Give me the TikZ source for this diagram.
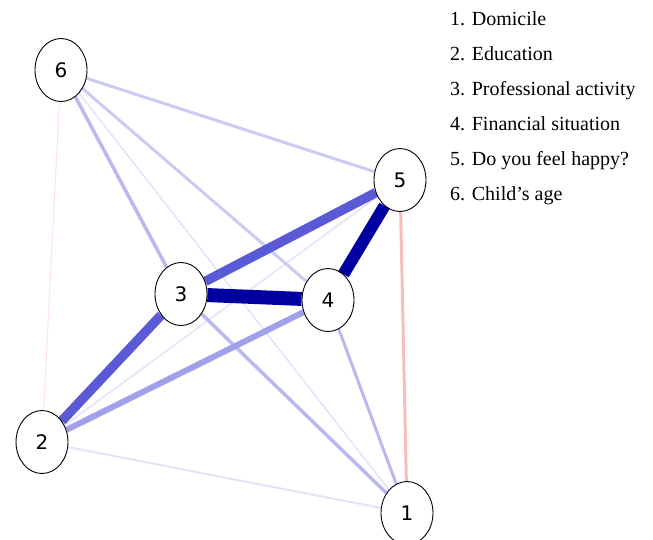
\documentclass[tikz,border=0pt]{standalone}
\usepackage{fontspec}
\setmainfont{Liberation Serif}
\newfontfamily\varfont{DejaVu Sans}
\usetikzlibrary{shapes.geometric,backgrounds}
\definecolor{navy}{HTML}{0000A0}
\definecolor{midblue}{HTML}{5A5AD7}
\definecolor{softblue}{HTML}{A0A0EB}
\definecolor{lightblue}{HTML}{B9B9F0}
\definecolor{paleblue}{HTML}{CBCBF6}
\definecolor{faintblue}{HTML}{E2E2FB}
\definecolor{salmon}{HTML}{F5BEB9}
\definecolor{faintpink}{HTML}{FDE4E4}
\tikzset{
  var/.style={ellipse, draw=black, line width=0.9pt, fill=white, minimum width=52pt, minimum height=63pt, inner sep=0pt, font=\varfont\fontsize{20}{24}\selectfont},
  legend/.style={anchor=base west, inner sep=0pt, font=\fontsize{20}{24}\selectfont},
  tie/.style={line cap=butt}
}

\begin{document}
\begin{tikzpicture}[x=1pt,y=-1pt]
\useasboundingbox (0,0) rectangle (653,539);
\clip (0,0) rectangle (653,539);
% variables
\node[var] (v1) at (407,513) {1};
\node[var] (v2) at (42,442) {2};
\node[var] (v3) at (181,294) {3};
\node[var] (v4) at (328,300) {4};
\node[var] (v5) at (400,180) {5};
\node[var] (v6) at (61,70) {6};
% edges
\begin{scope}[on background layer]
\draw[tie, draw=faintpink, line width=1pt] (v6) -- (v2);
\draw[tie, draw=faintblue, line width=1.5pt] (v6) -- (v1);
\draw[tie, draw=faintblue, line width=1.5pt] (v5) -- (v2);
\draw[tie, draw=faintblue, line width=2pt] (v2) -- (v1);
\draw[tie, draw=paleblue, line width=3pt] (v6) -- (v5);
\draw[tie, draw=paleblue, line width=3pt] (v6) -- (v4);
\draw[tie, draw=lightblue, line width=3.5pt] (v6) -- (v3);
\draw[tie, draw=lightblue, line width=3.5pt] (v3) -- (v1);
\draw[tie, draw=lightblue, line width=3pt] (v4) -- (v1);
\draw[tie, draw=salmon, line width=3pt] (v5) -- (v1);
\draw[tie, draw=softblue, line width=6pt] (v4) -- (v2);
\draw[tie, draw=midblue, line width=9.5pt] (v3) -- (v2);
\draw[tie, draw=midblue, line width=9.5pt] (v5) -- (v3);
\draw[tie, draw=navy, line width=12pt] (v5) -- (v4);
\draw[tie, draw=navy, line width=14pt] (v3) -- (v4);
\end{scope}
% legend
\node[legend] (l1) at (450,25) {1. Domicile};
\node[legend] (l2) at (450,60) {2. Education};
\node[legend] (l3) at (450,95) {3. Professional activity};
\node[legend] (l4) at (450,130) {4. Financial situation};
\node[legend] (l5) at (450,165) {5. Do you feel happy?};
\node[legend] (l6) at (450,200) {6. Child’s age};
\end{tikzpicture}
\end{document}
